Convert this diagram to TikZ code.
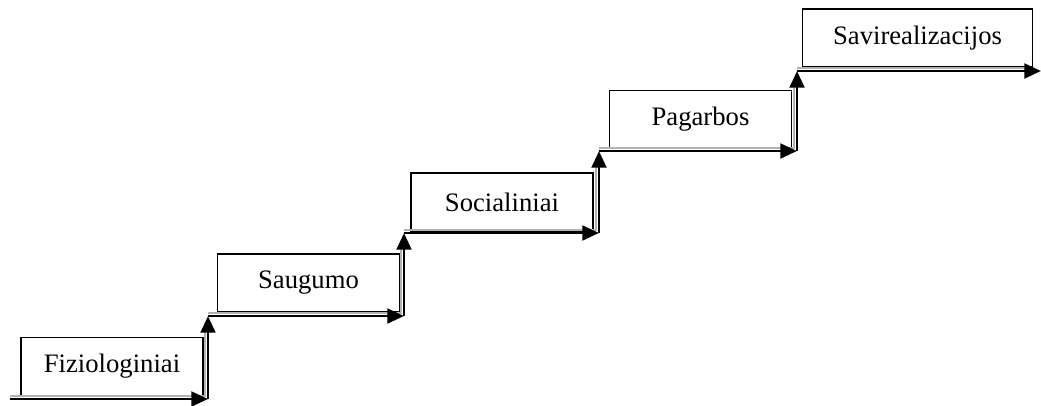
\documentclass[tikz,border=0pt]{standalone}
\usepackage{fontspec}
\setmainfont{Liberation Serif}
\usetikzlibrary{arrows.meta}
\begin{document}
\begin{tikzpicture}[x=0.75pt,y=-0.75pt,
    stepbox/.style={draw,line width=0.9pt,minimum width=136.5pt,minimum height=43.5pt,
      inner sep=0pt,font=\fontsize{20}{24}\selectfont},
    stairline/.style={line width=2.2pt,-{Triangle[length=12.5pt,width=11pt]}},
    stairshade/.style={draw=gray!60,line width=1pt}]
    \useasboundingbox (0,0) rectangle (1041,405);
    % steps of the staircase
    \node[stepbox] (fiz) at (112,366.5) {Fiziologiniai};
    \node[stepbox] (saug) at (308.5,283) {Saugumo};
    \node[stepbox] (soc) at (502,202) {Socialiniai};
    \node[stepbox] (pag) at (700.5,119.5) {Pagarbos};
    \node[stepbox,minimum width=173pt] (savi) at (917.5,38) {Savirealizacijos};
    % corners of the stair line
    \coordinate (c0) at (10,399);
    \coordinate (c1) at (208,399);
    \coordinate (c2) at (208,316);
    \coordinate (c3) at (404,316);
    \coordinate (c4) at (404,233);
    \coordinate (c5) at (599,233);
    \coordinate (c6) at (599,151);
    \coordinate (c7) at (797,151);
    \coordinate (c8) at (797,71);
    \coordinate (c9) at (1041,71);
    % grey inner lines
    \draw[stairshade] ([yshift=2.2pt]c0) -- ([xshift=-2.2pt,yshift=2.2pt]c1) -- ([xshift=-2.2pt,yshift=-12pt]c2);
    \draw[stairshade] ([yshift=2.2pt]c2) -- ([xshift=-2.2pt,yshift=2.2pt]c3) -- ([xshift=-2.2pt,yshift=-12pt]c4);
    \draw[stairshade] ([yshift=2.2pt]c4) -- ([xshift=-2.2pt,yshift=2.2pt]c5) -- ([xshift=-2.2pt,yshift=-12pt]c6);
    \draw[stairshade] ([yshift=2.2pt]c6) -- ([xshift=-2.2pt,yshift=2.2pt]c7) -- ([xshift=-2.2pt,yshift=-12pt]c8);
    \draw[stairshade] ([yshift=2.2pt]c8) -- ([xshift=-12pt,yshift=2.2pt]c9);
    % black stair lines with arrows
    \draw[stairline] (c0) -- (c1);
    \draw[stairline] (c1) -- (c2);
    \draw[stairline] (c2) -- (c3);
    \draw[stairline] (c3) -- (c4);
    \draw[stairline] (c4) -- (c5);
    \draw[stairline] (c5) -- (c6);
    \draw[stairline] (c6) -- (c7);
    \draw[stairline] (c7) -- (c8);
    \draw[stairline] (c8) -- (c9);
\end{tikzpicture}
\end{document}
